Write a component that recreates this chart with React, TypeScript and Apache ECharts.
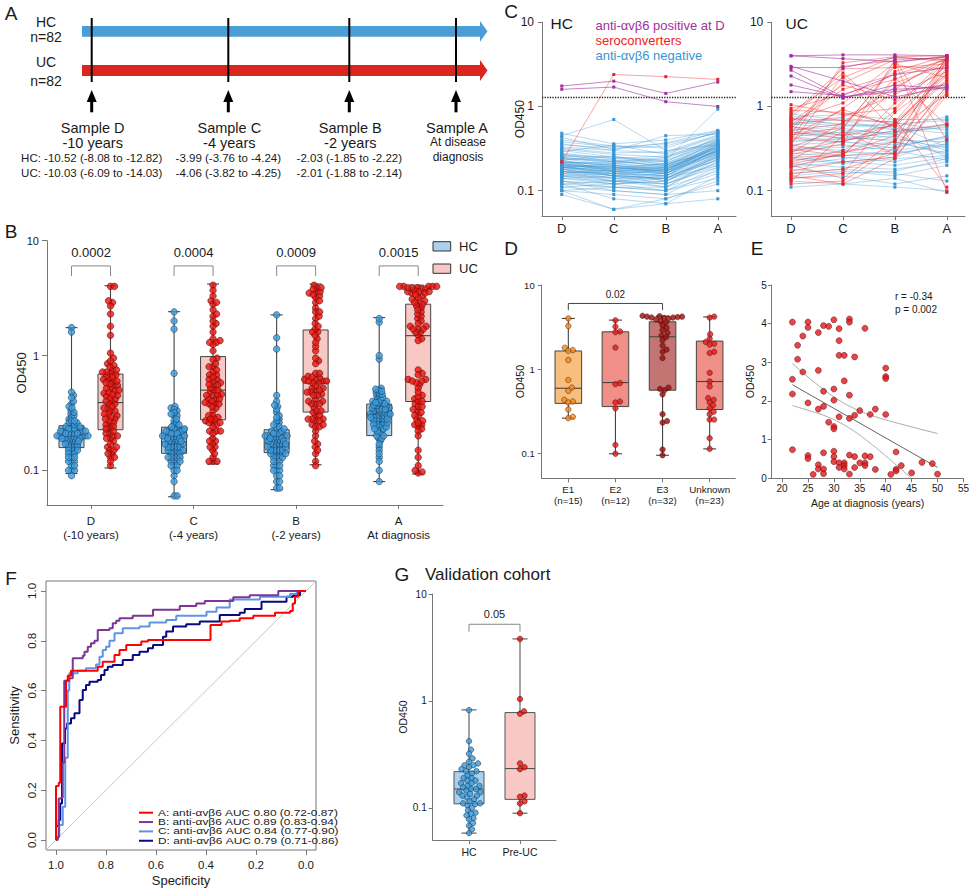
import React, { useEffect, useRef } from "react";
import * as echarts from "echarts";

const FONT = "'Liberation Sans', Arial, Helvetica, sans-serif";

// ---------- Panel A ----------
const sampleNames = ["Sample D", "Sample C", "Sample B", "Sample A"];
const sampleTimes = ["-10 years", "-4 years", "-2 years", ""];
const hcIntervals = ["HC: -10.52 (-8.08 to -12.82)", "-3.99 (-3.76 to -4.24)", "-2.03 (-1.85 to -2.22)"];
const ucIntervals = ["UC: -10.03 (-6.09 to -14.03)", "-4.06 (-3.82 to -4.25)", "-2.01 (-1.88 to -2.14)"];

// ---------- Panels B / C: OD450 per subject at samples D, C, B, A ----------
const timepoints = ["D", "C", "B", "A"];
const threshold = 1.28;
const hcSubjects = [
  [0.21,0.17,0.16,0.31],[0.18,0.15,0.14,0.27],[0.25,0.22,0.20,0.38],[0.12,0.11,0.10,0.19],
  [0.33,0.30,0.28,0.45],[0.19,0.20,0.17,0.33],[0.16,0.13,0.12,0.22],[0.28,0.24,0.26,0.40],
  [0.10,0.09,0.08,0.13],[0.22,0.18,0.19,0.29],[0.45,0.70,0.30,0.35],[0.17,0.16,0.15,0.26],
  [0.20,0.19,0.21,0.36],[0.14,0.12,0.13,0.21],[0.24,0.20,0.18,0.32],[0.31,0.27,0.25,0.42],
  [0.15,0.14,0.11,0.24],[0.19,0.17,0.18,0.30],[0.26,0.25,0.23,0.93],[0.13,0.10,0.09,0.18],
  [0.21,0.22,0.20,0.34],[0.38,0.33,0.36,0.48],[0.18,0.14,0.16,0.28],[0.11,0.12,0.10,0.16],
  [0.23,0.19,0.17,0.37],[0.17,0.15,0.14,0.25],[0.20,0.16,0.15,0.31],[0.29,0.35,0.27,0.44],
  [0.16,0.18,0.17,0.29],[0.12,0.08,0.07,0.15],[0.22,0.21,0.19,0.33],[0.19,0.15,0.16,0.27],
  [0.48,0.36,0.40,0.52],[0.15,0.13,0.14,0.23],[0.24,0.23,0.21,0.39],[0.18,0.17,0.13,0.26],
  [0.10,0.06,0.08,0.12],[0.27,0.22,0.24,0.41],[0.20,0.18,0.16,0.35],[0.14,0.15,0.12,0.20],
  [0.36,0.30,0.45,0.47],[0.19,0.16,0.18,0.32],[0.17,0.14,0.15,0.28],[0.23,0.26,0.20,0.36],
  [0.13,0.11,0.11,0.17],[0.21,0.19,0.17,0.30],[0.16,0.17,0.19,0.34],[0.30,0.25,0.22,0.43],
  [0.11,0.10,0.09,0.10],[0.20,0.15,0.14,0.25],[0.25,0.21,0.23,0.37],[0.18,0.19,0.16,0.29],
  [0.15,0.12,0.13,0.24],[0.22,0.20,0.18,0.33],[0.40,0.34,0.32,0.50],[0.19,0.17,0.15,0.31],
  [0.09,0.06,0.07,0.08],[0.17,0.16,0.17,0.27],[0.26,0.23,0.19,0.39],[0.21,0.18,0.20,0.32],
  [0.14,0.13,0.11,0.22],[0.19,0.21,0.18,0.35],[0.32,0.28,0.29,0.46],[0.16,0.14,0.14,0.26],
  [0.23,0.17,0.16,0.30],[0.12,0.13,0.12,0.19],[0.20,0.19,0.17,0.36],[0.18,0.15,0.18,0.28],
  [0.27,0.24,0.22,0.40],[0.15,0.16,0.13,0.25],[0.21,0.17,0.19,0.31],[0.35,0.32,0.34,0.49],
  [0.17,0.13,0.15,0.23],[0.10,0.11,0.10,0.14],[0.22,0.20,0.16,0.34],[0.19,0.18,0.21,0.29],
  [0.24,0.22,0.25,0.38],[0.13,0.12,0.14,0.20],[0.43,0.31,0.37,0.51],
  [1.75,2.0,1.43,1.95],[1.6,1.7,1.14,1.0],[0.22,2.4,2.26,2.1],
];
const ucSubjects = [
  [0.11,0.12,0.14,0.095],[0.25,0.22,0.20,0.25],[0.40,0.38,0.35,0.42],[0.75,0.80,0.70,0.70],
  [0.55,0.48,0.60,0.33],[0.18,0.16,0.17,0.24],[0.30,0.33,0.38,0.28],[0.62,0.55,0.46,0.62],
  [0.14,0.15,0.12,0.15],[0.47,0.42,0.40,0.38],[0.23,0.26,0.30,0.23],[0.70,0.62,0.58,0.75],
  [0.35,0.38,0.32,0.45],[0.16,0.18,0.16,0.13],[0.52,0.46,0.50,0.56],[0.28,0.25,0.22,0.30],
  [0.82,0.68,0.52,0.60],[0.19,0.22,0.25,0.40],[0.44,0.50,0.42,0.32],[0.13,0.12,0.11,0.10],
  [0.60,0.72,0.64,0.52],[0.26,0.29,0.27,0.36],[0.38,0.42,0.48,0.25],[0.21,0.19,0.18,0.22],
  [0.66,0.58,0.62,0.68],[0.33,0.30,0.33,0.44],[0.15,0.17,0.15,0.20],[0.49,0.45,0.38,0.27],
  [0.24,0.21,0.24,0.26],[0.72,0.60,0.55,0.48],[0.31,0.35,0.30,0.36],[0.43,0.40,0.45,0.30],
  [0.20,0.24,0.28,0.34],[0.57,0.52,0.48,0.58],
  [0.13,0.45,1.6,3.9],[0.21,0.27,0.9,3.5],[0.38,0.95,2.6,4.0],[0.55,1.9,3.6,3.8],
  [0.85,2.2,3.9,4.0],[0.42,0.38,0.62,2.1],[0.25,0.26,0.28,1.8],[0.62,0.75,1.4,2.6],
  [0.15,0.12,0.24,1.5],[0.33,0.55,3.2,2.2],[0.48,3.0,3.5,0.097],[0.72,0.68,0.66,3.3],
  [0.19,0.28,0.45,2.9],[0.95,1.4,2.1,3.7],[0.29,0.39,0.52,1.4],[0.14,0.16,0.85,2.4],
  [0.52,0.62,1.9,3.1],[0.36,2.3,0.5,0.62],[0.23,0.50,0.27,3.6],[0.68,1.1,3.3,4.0],
  [0.45,0.92,0.58,2.0],[0.12,0.13,0.33,1.6],[0.80,2.8,2.9,3.2],[0.27,0.36,3.6,0.40],
  [0.58,0.45,0.6,2.7],[0.31,0.26,1.1,3.0],[0.40,3.3,3.9,3.4],[0.17,0.22,0.25,1.35],
  [1.05,0.8,0.95,3.8],[0.50,0.42,2.2,0.60],[0.22,0.30,0.65,2.3],[0.65,1.8,1.2,1.9],
  [0.35,0.28,0.38,3.9],[0.46,0.56,3.0,2.8],[0.20,0.14,0.40,1.7],[0.75,2.5,0.7,0.11],
  [0.28,0.65,1.7,3.5],[0.90,0.85,0.6,2.5],[0.16,0.18,0.28,4.0],[0.60,1.6,2.4,3.6],
  [4.0,4.1,4.1,4.0],[4.0,3.7,3.4,3.9],[2.9,2.9,3.8,3.6],[2.7,1.3,1.6,1.7],
  [2.3,1.25,1.8,1.6],[1.8,1.3,1.5,1.8],[1.5,1.35,2.4,2.9],[3.0,2.0,1.3,1.7],
];
const bGroupLabels = ["D\n(-10 years)", "C\n(-4 years)", "B\n(-2 years)", "A\nAt diagnosis"];
const bPValues = ["0.0002", "0.0004", "0.0009", "0.0015"];
// [min, q1, median, q3, max]
const hcBoxStats = [[0.094,0.158,0.191,0.245,1.75],[0.059,0.141,0.177,0.238,2.41],[0.068,0.143,0.173,0.226,2.26],[0.08,0.201,0.305,0.378,2.14]];
const ucBoxStats = [[0.105,0.226,0.39,0.69,4.06],[0.114,0.276,0.50,0.98,4.2],[0.112,0.322,0.575,1.67,4.2],[0.093,0.398,1.49,2.8,4.1]];

// ---------- Panel D ----------
const extentGroups = ["E1", "E2", "E3", "Unknown"];
const extentCounts = ["(n=15)", "(n=12)", "(n=32)", "(n=23)"];
const e1Values = [4.0,3.24,1.79,1.68,1.65,1.28,0.74,0.6,0.55,0.43,0.41,0.40,0.33,0.27,0.26];
const e2Values = [3.8,3.2,2.8,2.75,1.8,0.68,0.66,0.41,0.40,0.34,0.125,0.098];
const e3Values = [4.3,4.25,4.2,4.2,4.15,4.1,4.1,4.05,4.0,3.9,3.7,3.6,3.3,3.1,2.9,2.7,2.5,2.4,2.2,1.9,1.7,1.6,1.35,0.6,0.58,0.56,0.5,0.29,0.24,0.23,0.11,0.094];
const unknownValues = [4.2,4.1,2.6,2.3,2.1,2.0,1.95,1.6,1.55,0.9,0.71,0.62,0.45,0.43,0.40,0.37,0.34,0.31,0.29,0.25,0.25,0.15,0.112];
const extentBoxStats = [[0.26,0.39,0.59,1.64,4.0],[0.098,0.357,0.69,2.77,3.82],[0.094,0.56,2.42,3.65,4.26],[0.112,0.33,0.71,2.15,4.17]];

// ---------- Panel E ----------
const ageAtDiagnosis = [22,25,25,30,33,33,28,29,31,27,24,36,23,31,23,31,32,34,24,27,40,40,40,22,32,30,28,22,33,30,25,28,27,35,38,37,40,34,31,33,29,30,30,22,42,28,30,30,33,34,36,37,25,25,30,31,32,35,36,47,49,27,32,36,43,34,31,27,28,32,38,42,42,26,28,33,41,45,50];
const odAtDiagnosis = [4.04,4.04,3.9,4.1,4.12,4.04,3.95,3.93,3.87,3.77,3.68,3.88,3.44,3.56,3.08,3.18,3.18,3.14,2.75,2.79,2.85,2.63,2.58,2.56,2.52,2.31,2.25,2.18,2.15,2.02,1.95,1.86,1.79,1.75,1.79,1.65,1.65,1.63,1.59,1.55,1.45,1.34,1.28,0.74,0.68,0.66,0.70,0.56,0.60,0.56,0.58,0.56,0.59,0.51,0.43,0.40,0.40,0.40,0.40,0.41,0.38,0.35,0.33,0.33,0.33,0.28,0.28,0.24,0.24,0.24,0.23,0.23,0.19,0.10,0.12,0.11,0.10,0.14,0.11];
const fitAges = [22, 50];
const fitValues = [2.42, 0.28];
const ciUpperAges = [22,25,28,31,34,37,40,43,45,47,50];
const ciUpper = [2.97,2.62,2.30,2.02,1.80,1.64,1.51,1.40,1.33,1.26,1.16];
const ciLowerAges = [22,25,28,31,34,37,40,43,45];
const ciLower = [1.88,1.76,1.63,1.45,1.21,0.91,0.58,0.23,0.0];

// ---------- Panel F: ROC curves [specificity, sensitivity] ----------
const rocA = [[1,0],[1,0.217],[0.989,0.23],[0.983,0.535],[0.96,0.64],[0.953,0.66],[0.94,0.68],[0.833,0.696],[0.813,0.716],[0.766,0.743],[0.746,0.763],[0.719,0.783],[0.659,0.797],[0.632,0.803],[0.382,0.863],[0.338,0.877],[0.305,0.88],[0.265,0.89],[0.211,0.9],[0.124,0.913],[0.064,0.92],[0.053,0.95],[0.044,0.977],[0.031,1],[0,1]];
const rocB = [[1,0],[0.993,0.01],[0.989,0.167],[0.98,0.17],[0.973,0.31],[0.967,0.64],[0.947,0.65],[0.933,0.73],[0.893,0.74],[0.886,0.756],[0.873,0.776],[0.86,0.79],[0.846,0.8],[0.833,0.843],[0.786,0.85],[0.773,0.87],[0.759,0.88],[0.746,0.89],[0.693,0.9],[0.612,0.925],[0.505,0.94],[0.439,0.95],[0.405,0.96],[0.291,0.975],[0.225,0.983],[0.111,1],[0,1]];
const rocC = [[1,0],[1,0.013],[0.987,0.06],[0.973,0.134],[0.963,0.33],[0.953,0.6],[0.947,0.67],[0.913,0.68],[0.88,0.69],[0.84,0.705],[0.826,0.736],[0.813,0.763],[0.8,0.776],[0.786,0.8],[0.766,0.83],[0.733,0.85],[0.666,0.857],[0.626,0.873],[0.559,0.883],[0.519,0.9],[0.398,0.917],[0.358,0.934],[0.305,0.966],[0.184,0.977],[0.064,0.988],[0.037,1],[0,1]];
const rocD = [[1,0],[1,0.056],[0.989,0.08],[0.983,0.147],[0.976,0.388],[0.964,0.448],[0.956,0.468],[0.94,0.489],[0.926,0.509],[0.906,0.562],[0.893,0.602],[0.88,0.622],[0.866,0.636],[0.833,0.643],[0.82,0.663],[0.806,0.683],[0.793,0.696],[0.773,0.703],[0.733,0.723],[0.693,0.743],[0.666,0.756],[0.632,0.77],[0.612,0.783],[0.572,0.816],[0.559,0.837],[0.532,0.857],[0.479,0.866],[0.425,0.877],[0.345,0.903],[0.265,0.913],[0.245,0.928],[0.178,0.957],[0.078,0.977],[0.051,0.983],[0.024,1],[0,1]];
const rocLabels = [
  "A: anti-\u03b1v\u03b26 AUC 0.80 (0.72-0.87)",
  "B: anti-\u03b1v\u03b26 AUC 0.89 (0.83-0.94)",
  "C: anti-\u03b1v\u03b26 AUC 0.84 (0.77-0.90)",
  "D: anti-\u03b1v\u03b26 AUC 0.79 (0.71-0.86)",
];
const rocColors = ["#ff0000", "#7d3596", "#5f93e6", "#0a0a80"];

// ---------- Panel G ----------
const gGroups = ["HC", "Pre-UC"];
const gHcValues = [0.82,0.42,0.35,0.32,0.29,0.27,0.26,0.25,0.25,0.24,0.23,0.22,0.22,0.21,0.2,0.19,0.19,0.18,0.18,0.17,0.17,0.16,0.16,0.155,0.15,0.15,0.145,0.14,0.14,0.135,0.13,0.13,0.125,0.12,0.115,0.11,0.11,0.108,0.105,0.1,0.095,0.09,0.088,0.085,0.08,0.078,0.072,0.068,0.063,0.058];
const gPreUcValues = [3.8,1.04,0.8,0.76,0.26,0.24,0.23,0.13,0.127,0.115,0.11,0.089];
const gBoxStats = [[0.058,0.109,0.15,0.218,0.824],[0.089,0.12,0.233,0.778,3.8]];

// ---------- helpers ----------
const LOG_MIN = 0.05;
const LOG_MAX = 10;
const AX = "#777";
const TXT = "#1a1a1a";

function txt(text: string, x: number, y: number, size: number, o: any = {}) {
  return {
    type: "text", x, y, rotation: o.rot || 0, scaleX: o.scaleX || 1, silent: true,
    style: {
      text, x: 0, y: 0, fill: o.color || TXT,
      font: `${o.weight || "normal"} ${size}px ${FONT}`,
      align: o.align || "center", textAlign: o.align || "center",
      verticalAlign: "middle", textVerticalAlign: "middle",
    },
  };
}

function swarm(values: number[], center: number, unitPx: number, decadePx: number, diam: number) {
  const order = values.map((_, i) => i).sort((a, b) => values[a] - values[b]);
  const placed: { x: number; y: number }[] = [];
  const out: number[][] = new Array(values.length);
  for (const i of order) {
    const y = Math.log10(values[i]) * decadePx;
    let best = 0;
    for (let k = 0; k < 400; k++) {
      const off = k === 0 ? 0 : (k % 2 ? 1 : -1) * Math.ceil(k / 2) * 0.5;
      let ok = true;
      for (const p of placed) {
        if ((p.x - off) ** 2 + (p.y - y) ** 2 < diam * diam) { ok = false; break; }
      }
      if (ok) { best = off; break; }
    }
    placed.push({ x: best, y });
    out[i] = [center + best / unitPx, values[i]];
  }
  return out;
}

function boxSeries(ai: number, items: any[], hw: number, cap: number) {
  return {
    type: "custom", xAxisIndex: ai, yAxisIndex: ai, z: 2, silent: true,
    data: items.map((it) => [it.x, ...it.s]),
    encode: { x: 0, y: [1, 2, 3, 4, 5] },
    renderItem: (params: any, api: any) => {
      const it = items[params.dataIndex];
      const x = api.value(0);
      const p = [1, 2, 3, 4, 5].map((k) => api.coord([x, api.value(k)]));
      const cx = p[0][0];
      const stroke = it.stroke || "#444";
      const ls = { stroke, lineWidth: 1.1 };
      return {
        type: "group",
        children: [
          { type: "line", shape: { x1: cx, y1: p[4][1], x2: cx, y2: p[0][1] }, style: ls },
          { type: "line", shape: { x1: cx - cap, y1: p[4][1], x2: cx + cap, y2: p[4][1] }, style: ls },
          { type: "line", shape: { x1: cx - cap, y1: p[0][1], x2: cx + cap, y2: p[0][1] }, style: ls },
          { type: "rect", shape: { x: cx - hw, y: p[3][1], width: hw * 2, height: p[1][1] - p[3][1] }, style: { fill: it.fill, stroke, lineWidth: 1 } },
          { type: "line", shape: { x1: cx - hw, y1: p[2][1], x2: cx + hw, y2: p[2][1] }, style: ls },
        ],
      };
    },
  };
}

function bracketSeries(ai: number, br: any[], color: string, size: number) {
  return {
    type: "custom", xAxisIndex: ai, yAxisIndex: ai, z: 4, silent: true,
    data: br.map((b) => [b.x1, b.x2, b.y, b.drop, b.ty]),
    encode: { x: [0, 1], y: [2, 3, 4] },
    renderItem: (params: any, api: any) => {
      const x1 = api.value(0), x2 = api.value(1);
      const a = api.coord([x1, api.value(3)]);
      const b = api.coord([x1, api.value(2)]);
      const c = api.coord([x2, api.value(2)]);
      const d = api.coord([x2, api.value(3)]);
      const t = api.coord([(x1 + x2) / 2, api.value(4)]);
      return {
        type: "group",
        children: [
          { type: "polyline", shape: { points: [a, b, c, d] }, style: { stroke: color, fill: "none", lineWidth: 1 } },
          { type: "text", x: t[0], y: t[1], style: { text: br[params.dataIndex].label, fill: TXT, font: `${size}px ${FONT}`, align: "center", verticalAlign: "middle" } },
        ],
      };
    },
  };
}

function logY(ai: number, size: number, margin: number, tick: number, name?: string, nameSize?: number, nameGap?: number) {
  return {
    type: "log", gridIndex: ai, min: LOG_MIN, max: LOG_MAX, logBase: 10,
    axisLine: { show: true, onZero: false, lineStyle: { color: AX, width: 1 } },
    axisTick: { show: true, customValues: [0.1, 1, 10], length: tick, lineStyle: { color: AX } },
    axisLabel: { customValues: [0.1, 1, 10], formatter: (v: number) => String(+(+v).toPrecision(2)), fontSize: size, color: TXT, fontFamily: FONT, margin },
    splitLine: { show: false },
    name: name || "", nameLocation: "middle", nameGap: nameGap || 20, nameMoveOverlap: false,
    nameTextStyle: { fontSize: nameSize || 11, color: TXT, fontFamily: FONT },
  };
}

function catX(ai: number, min: number, max: number, labels: string[], size: number, margin: number, lineHeight: number) {
  const vals = labels.map((_, i) => i + 1);
  return {
    type: "value", gridIndex: ai, min, max,
    axisLine: { show: true, onZero: false, lineStyle: { color: AX, width: 1 } },
    axisTick: { show: true, customValues: vals, length: 4, lineStyle: { color: AX } },
    axisLabel: { customValues: vals, formatter: (v: number) => labels[Math.round(v) - 1] || "", fontSize: size, color: TXT, fontFamily: FONT, margin, lineHeight },
    splitLine: { show: false },
  };
}

function classify(row: number[]) {
  if (row[0] > threshold) return "pos";
  if (row.some((v) => v > threshold)) return "sero";
  return "neg";
}
const cColors: any = { pos: "#a12f9c", sero: "#ee2222", neg: "#3a95d3" };

function subjectSeries(rows: number[][], ai: number) {
  const out: any[] = [];
  ["neg", "sero", "pos"].forEach((cls, ci) => {
    rows.forEach((row) => {
      if (classify(row) !== cls) return;
      out.push({
        type: "line", xAxisIndex: ai, yAxisIndex: ai, silent: true, z: 3 + ci,
        data: row.map((v, j) => [j + 1, v]),
        symbol: "rect", symbolSize: 3, showSymbol: true,
        lineStyle: { color: cColors[cls], width: 0.8, opacity: cls === "neg" ? 0.45 : cls === "sero" ? 0.5 : 0.75 },
        itemStyle: { color: cColors[cls] },
        emphasis: { disabled: true },
      });
    });
  });
  out[0].markLine = {
    silent: true, symbol: ["none", "none"], label: { show: false },
    lineStyle: { type: "dotted", color: "#222", width: 1.3 },
    data: [{ yAxis: threshold }],
  };
  return out;
}

function buildOption() {
  const grids = [
    { left: 47, top: 240.7, width: 396, height: 264.3 },
    { left: 542, top: 22.3, width: 194, height: 193.7 },
    { left: 771.3, top: 22.3, width: 193.7, height: 193.7 },
    { left: 541.7, top: 285, width: 193.6, height: 193.3 },
    { left: 771.7, top: 285, width: 193.3, height: 193.3 },
    { left: 46, top: 581, width: 270, height: 269, show: true, borderColor: AX, borderWidth: 1 },
    { left: 432.7, top: 594, width: 123.3, height: 246 },
  ];
  const decades = Math.log10(LOG_MAX) - Math.log10(LOG_MIN);
  const bX = [0.571, 4.432], cX = [0.62, 4.35], dX = [0.435, 4.544], gX = [0.288, 2.706];

  // B
  const bUnit = grids[0].width / (bX[1] - bX[0]);
  const bDec = grids[0].height / decades;
  const off = 0.19;
  const hcPts: number[][] = [], ucPts: number[][] = [];
  timepoints.forEach((_, j) => {
    hcPts.push(...swarm(hcSubjects.map((r) => r[j]), j + 1 - off, bUnit, bDec, 3.0));
    ucPts.push(...swarm(ucSubjects.map((r) => r[j]), j + 1 + off, bUnit, bDec, 3.9));
  });
  const bBoxes: any[] = [];
  timepoints.forEach((_, j) => {
    bBoxes.push({ x: j + 1 - off, s: hcBoxStats[j], fill: "#a9d1ec" });
    bBoxes.push({ x: j + 1 + off, s: ucBoxStats[j], fill: "#f7c8c4" });
  });
  const bBrackets = bPValues.map((p, j) => ({ x1: j + 1 - off, x2: j + 1 + off, y: 6.03, drop: 4.93, ty: 7.93, label: p }));

  // D
  const dUnit = grids[3].width / (dX[1] - dX[0]);
  const dDec = grids[3].height / decades;
  const dSets = [e1Values, e2Values, e3Values, unknownValues];
  const dFill = ["#f8be7e", "#ef8f87", "#c27572", "#ef8f87"];
  const dPoint = ["#f28a1a", "#e3191c", "#9a0d0d", "#e3191c"];
  const dBoxes = extentBoxStats.map((s, i) => ({ x: i + 1, s, fill: dFill[i] }));

  // G
  const gUnit = grids[6].width / (gX[1] - gX[0]);
  const gDec = grids[6].height / decades;

  const fTicks = [0, 0.2, 0.4, 0.6, 0.8, 1];
  const xAxis: any[] = [
    catX(0, bX[0], bX[1], bGroupLabels, 11.5, 9, 14),
    catX(1, cX[0], cX[1], timepoints, 13, 5, 14),
    catX(2, cX[0], cX[1], timepoints, 13, 5, 14),
    catX(3, dX[0], dX[1], extentGroups.map((g, i) => `${g}\n${extentCounts[i]}`), 9.8, 6, 10.5),
    {
      type: "value", gridIndex: 4, min: 18, max: 55,
      axisLine: { show: true, onZero: false, lineStyle: { color: AX } },
      axisTick: { customValues: [20, 25, 30, 35, 40, 45, 50, 55], length: 4, lineStyle: { color: AX } },
      axisLabel: { customValues: [20, 25, 30, 35, 40, 45, 50, 55], fontSize: 10, color: TXT, fontFamily: FONT, margin: 5 },
      splitLine: { show: false },
      name: "Age at diagnosis (years)", nameLocation: "middle", nameGap: 19, nameMoveOverlap: false,
      nameTextStyle: { fontSize: 10.5, color: TXT, fontFamily: FONT },
    },
    {
      type: "value", gridIndex: 5, min: -0.04, max: 1.04, inverse: true, position: "bottom",
      axisLine: { show: false, onZero: false },
      axisTick: { show: true, customValues: fTicks, length: 5, lineStyle: { color: AX } },
      axisLabel: { customValues: fTicks, formatter: (v: number) => (+v).toFixed(1), fontSize: 11.5, color: TXT, fontFamily: FONT, margin: 9 },
      splitLine: { show: false },
      name: "Specificity", nameLocation: "middle", nameGap: 24, nameMoveOverlap: false,
      nameTextStyle: { fontSize: 13, color: TXT, fontFamily: FONT },
    },
    catX(6, gX[0], gX[1], gGroups, 10.5, 6, 12),
  ];
  const yAxis: any[] = [
    logY(0, 11, 8, 5, "OD450", 13, 19.5),
    logY(1, 12, 8, 4, "OD450", 12, 16),
    logY(2, 12, 8, 4),
    logY(3, 9.5, 7, 4, "OD450", 10.5, 16.5),
    {
      type: "value", gridIndex: 4, min: 0, max: 5, interval: 1,
      axisLine: { show: true, onZero: false, lineStyle: { color: AX } },
      axisTick: { show: true, length: 4, lineStyle: { color: AX } },
      axisLabel: { fontSize: 10, color: TXT, fontFamily: FONT, margin: 5 },
      splitLine: { show: false },
      name: "OD450", nameLocation: "middle", nameGap: 16.5, nameMoveOverlap: false,
      nameTextStyle: { fontSize: 10.5, color: TXT, fontFamily: FONT },
    },
    {
      type: "value", gridIndex: 5, min: -0.04, max: 1.04, position: "left",
      axisLine: { show: false, onZero: false },
      axisTick: { show: true, customValues: fTicks, length: 5, lineStyle: { color: AX } },
      axisLabel: { customValues: fTicks, formatter: (v: number) => (+v).toFixed(1), rotate: 90, fontSize: 11.5, color: TXT, fontFamily: FONT, margin: 8 },
      splitLine: { show: false },
      name: "Sensitivity", nameLocation: "middle", nameGap: 25.5, nameMoveOverlap: false,
      nameTextStyle: { fontSize: 13, color: TXT, fontFamily: FONT },
    },
    logY(6, 10, 6, 4, "OD450", 10.5, 24),
  ];

  const hcPointStyle = { color: "#3b9ad9", borderColor: "#173a58", borderWidth: 0.7 };
  const ucPointStyle = { color: "#e8140f", borderColor: "#560909", borderWidth: 0.7 };

  const series: any[] = [
    // B
    boxSeries(0, bBoxes, 12.5, 6),
    { type: "scatter", xAxisIndex: 0, yAxisIndex: 0, z: 3, silent: true, data: hcPts, symbolSize: 6.5, itemStyle: hcPointStyle },
    { type: "scatter", xAxisIndex: 0, yAxisIndex: 0, z: 3, silent: true, data: ucPts, symbolSize: 6.5, itemStyle: ucPointStyle },
    bracketSeries(0, bBrackets, "#888", 13),
    // C
    ...subjectSeries(hcSubjects, 1),
    ...subjectSeries(ucSubjects, 2),
    // D
    boxSeries(3, dBoxes, 13.3, 6.5),
    ...dSets.map((vals, i) => ({
      type: "scatter", xAxisIndex: 3, yAxisIndex: 3, z: 3, silent: true,
      data: swarm(vals, i + 1, dUnit, dDec, 4.5), symbolSize: 5.5,
      itemStyle: { color: dPoint[i], borderColor: "#4a1a08", borderWidth: 0.6 },
    })),
    bracketSeries(3, [{ x1: 1, x2: 3, y: 6.03, drop: 5.02, ty: 7.71, label: "0.02" }], "#444", 10),
    // E
    {
      type: "scatter", xAxisIndex: 4, yAxisIndex: 4, z: 3, silent: true,
      data: ageAtDiagnosis.map((a, i) => [a, odAtDiagnosis[i]]), symbolSize: 6,
      itemStyle: { color: "#e0171b", borderColor: "#5a0a0a", borderWidth: 0.6 },
    },
    { type: "line", xAxisIndex: 4, yAxisIndex: 4, z: 2, silent: true, showSymbol: false, data: fitAges.map((a, i) => [a, fitValues[i]]), lineStyle: { color: "#666", width: 1 } },
    { type: "line", xAxisIndex: 4, yAxisIndex: 4, z: 2, silent: true, showSymbol: false, smooth: true, data: ciUpperAges.map((a, i) => [a, ciUpper[i]]), lineStyle: { color: "#aaa", width: 1 } },
    { type: "line", xAxisIndex: 4, yAxisIndex: 4, z: 2, silent: true, showSymbol: false, smooth: true, data: ciLowerAges.map((a, i) => [a, ciLower[i]]), lineStyle: { color: "#aaa", width: 1 } },
    // F
    { type: "line", xAxisIndex: 5, yAxisIndex: 5, z: 2, silent: true, showSymbol: false, data: [[1.04, -0.04], [-0.04, 1.04]], lineStyle: { color: "#c8c8c8", width: 1 } },
    ...[rocD, rocC, rocB, rocA].map((r, k) => ({
      type: "line", xAxisIndex: 5, yAxisIndex: 5, z: 3 + k, silent: true, showSymbol: false, step: "end",
      data: r, lineStyle: { color: rocColors[3 - k], width: 2 },
    })),
    // G
    boxSeries(6, [{ x: 1, s: gBoxStats[0], fill: "#a9d1ec", stroke: "#555" }, { x: 2, s: gBoxStats[1], fill: "#f7c8c4", stroke: "#555" }], 15, 7.5),
    { type: "scatter", xAxisIndex: 6, yAxisIndex: 6, z: 3, silent: true, data: swarm(gHcValues, 1, gUnit, gDec, 4.6), symbolSize: 5.5, itemStyle: hcPointStyle },
    { type: "scatter", xAxisIndex: 6, yAxisIndex: 6, z: 3, silent: true, data: swarm(gPreUcValues, 2, gUnit, gDec, 4.6), symbolSize: 5.5, itemStyle: ucPointStyle },
    bracketSeries(6, [{ x1: 1, x2: 2, y: 5.21, drop: 4.44, ty: 6.46, label: "0.05" }], "#888", 11),
  ];

  // ---------- graphics ----------
  const g: any[] = [];
  [["A", 11, 13], ["B", 11, 231], ["C", 511, 11], ["D", 511, 248], ["E", 757, 248], ["F", 11, 578], ["G", 402, 574]].forEach((l: any) => g.push(txt(l[0], l[1], l[2], 19)));
  // Panel A
  g.push({ type: "polygon", silent: true, shape: { points: [[82, 26], [480, 26], [480, 21], [487.5, 31.3], [480, 41.7], [480, 36.7], [82, 36.7]] }, style: { fill: "#4b9dd5" } });
  g.push({ type: "polygon", silent: true, shape: { points: [[82, 65], [480, 65], [480, 60], [487.5, 70.5], [480, 81], [480, 76], [82, 76]] }, style: { fill: "#d9271d" } });
  g.push(txt("HC", 46, 21.7, 14), txt("n=82", 46, 37, 14), txt("UC", 46, 62, 14), txt("n=82", 46, 81, 14));
  const sx = [91.7, 228.3, 349.3, 456];
  sx.forEach((x, i) => {
    g.push({ type: "line", silent: true, shape: { x1: x, y1: 18, x2: x, y2: 82 }, style: { stroke: "#000", lineWidth: 2 } });
    g.push({ type: "polygon", silent: true, shape: { points: [[x - 5, 102], [x, 90], [x + 5, 102]] }, style: { fill: "#000" } });
    g.push({ type: "rect", silent: true, shape: { x: x - 1.5, y: 100, width: 3, height: 12.3 }, style: { fill: "#000" } });
    g.push(txt(sampleNames[i], x + 1, 127.7, 14.5));
    if (i < 3) {
      g.push(txt(sampleTimes[i], x + 1, 143, 14.5));
      g.push(txt(hcIntervals[i], x, 158, 11.5));
      g.push(txt(ucIntervals[i], x, 173, 11.5));
    } else {
      g.push(txt("At disease", x + 2, 142, 12));
      g.push(txt("diagnosis", x + 2, 156.5, 12));
    }
  });
  // Panel B legend
  g.push({ type: "rect", silent: true, shape: { x: 433, y: 241.7, width: 17.7, height: 9.3 }, style: { fill: "#a9d1ec", stroke: "#333", lineWidth: 1 } });
  g.push({ type: "rect", silent: true, shape: { x: 433, y: 264, width: 17.7, height: 9.3 }, style: { fill: "#f7c8c4", stroke: "#333", lineWidth: 1 } });
  g.push(txt("HC", 459, 246.5, 13, { align: "left" }), txt("UC", 459, 268.8, 13, { align: "left" }));
  // Panel C titles / legend
  g.push(txt("HC", 561.7, 23.5, 15.5), txt("UC", 796.7, 23.5, 15.5));
  g.push(txt("anti-\u03b1v\u03b26 positive at D", 595.5, 25.7, 13, { align: "left", color: cColors.pos }));
  g.push(txt("seroconverters", 595.5, 40.5, 13, { align: "left", color: cColors.sero }));
  g.push(txt("anti-\u03b1v\u03b26 negative", 595.5, 55.7, 13, { align: "left", color: cColors.neg }));
  // Panel E stats
  g.push(txt("r = -0.34", 895, 296.5, 10, { align: "left" }), txt("p = 0.002", 895, 309.5, 10, { align: "left" }));
  // Panel F legend
  rocLabels.forEach((l, i) => {
    const y = 812.7 + i * 9.35;
    g.push({ type: "line", silent: true, shape: { x1: 139, y1: y, x2: 153, y2: y }, style: { stroke: rocColors[i], lineWidth: 2 } });
    g.push(txt(l, 158, y, 8.6, { align: "left", scaleX: 1.38 }));
  });
  // Panel G title
  g.push(txt("Validation cohort", 425, 574, 17, { align: "left" }));

  return {
    animation: false,
    backgroundColor: "#ffffff",
    textStyle: { fontFamily: FONT },
    grid: grids,
    xAxis,
    yAxis,
    series,
    graphic: g,
  };
}

export default function App() {
  const ref = useRef<HTMLDivElement>(null);
  useEffect(() => {
    const chart = echarts.init(ref.current as HTMLDivElement, null, { renderer: "svg" });
    chart.setOption(buildOption() as any);
    return () => chart.dispose();
  }, []);
  return <div ref={ref} style={{ position: "absolute", left: 0, top: 0, width: 972, height: 890, background: "#fff" }} />;
}
